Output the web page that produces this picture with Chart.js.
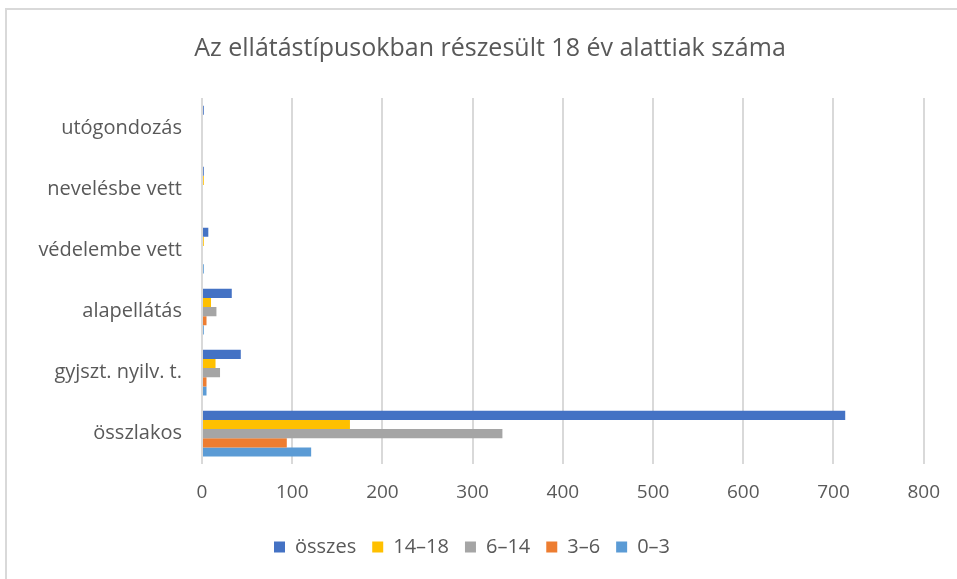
<!DOCTYPE html>
<html>
<head>
<meta charset="utf-8">
<script src="https://cdn.jsdelivr.net/npm/chart.js@4/dist/chart.umd.min.js"></script>
<style>
  html, body { margin: 0; padding: 0; background: #fff; }
  #frame { position: absolute; left: 5px; top: 8px; width: 1000px; height: 600px; border: 2px solid #d9d9d9; box-sizing: border-box; }
  #wrap { position: absolute; left: 0; top: 0; width: 957px; height: 579px; }
</style>
</head>
<body>
<div id="frame"></div>
<div id="wrap"><canvas id="chart"></canvas></div>
<script>
// categories, top to bottom
const categories = ['utógondozás', 'nevelésbe vett', 'védelembe vett', 'alapellátás', 'gyjszt. nyilv. t.', 'összlakos'];

// series values (same order as categories)
const osszes = [2, 2, 7, 33, 43, 713];
const kor14_18 = [0, 2, 2, 10, 15, 164];
const kor6_14 = [0, 0, 0, 16, 20, 333];
const kor3_6 = [0, 0, 0, 5, 5, 94];
const kor0_3 = [0, 0, 2, 2, 5, 121];

const xTicks = [0, 100, 200, 300, 400, 500, 600, 700, 800];

const chartTitle = 'Az ellátástípusokban részesült 18 év alattiak száma';
const fontFamily = '"Open Sans", Lato, sans-serif';
const textColor = '#595959';

const ds = (label, data, color) => ({
    label: label,
    data: data,
    backgroundColor: color,
    borderWidth: 0,
    barPercentage: 1.0,
    categoryPercentage: 0.75
});

// title is centred on the outer frame, not on the plot, so draw it by hand
const frameTitle = {
    id: 'frameTitle',
    afterDraw: (chart) => {
        const ctx = chart.ctx;
        ctx.save();
        ctx.font = '25px ' + fontFamily;
        ctx.fillStyle = textColor;
        ctx.textAlign = 'center';
        ctx.textBaseline = 'middle';
        ctx.fillText(chartTitle, 490, 49);
        ctx.restore();
    }
};

new Chart(document.getElementById('chart'), {
    type: 'bar',
    data: {
        labels: categories,
        datasets: [
            ds('összes', osszes, '#4472c4'),
            ds('14–18', kor14_18, '#ffc000'),
            ds('6–14', kor6_14, '#a5a5a5'),
            ds('3–6', kor3_6, '#ed7d31'),
            ds('0–3', kor0_3, '#5b9bd5')
        ]
    },
    plugins: [frameTitle],
    options: {
        indexAxis: 'y',
        responsive: true,
        maintainAspectRatio: false,
        animation: false,
        layout: { padding: { left: 20, right: 33, top: 98, bottom: 12 } },
        scales: {
            x: {
                min: 0,
                max: 800,
                afterBuildTicks: (axis) => { axis.ticks = xTicks.map(v => ({ value: v })); },
                grid: { color: '#d9d9d9', lineWidth: 2, drawTicks: false },
                border: { display: false },
                ticks: { color: textColor, font: { family: fontFamily, size: 19 }, padding: 17 }
            },
            y: {
                grid: { display: false },
                border: { display: false },
                ticks: { color: textColor, font: { family: fontFamily, size: 20 }, padding: 12 },
                afterFit: (axis) => { axis.width = 182; }
            }
        },
        plugins: {
            title: { display: false },
            legend: {
                position: 'bottom',
                labels: {
                    color: textColor,
                    font: { family: fontFamily, size: 20 },
                    boxWidth: 11,
                    boxHeight: 11,
                    padding: 16
                }
            },
            tooltip: { enabled: false }
        }
    }
});
</script>
</body>
</html>
